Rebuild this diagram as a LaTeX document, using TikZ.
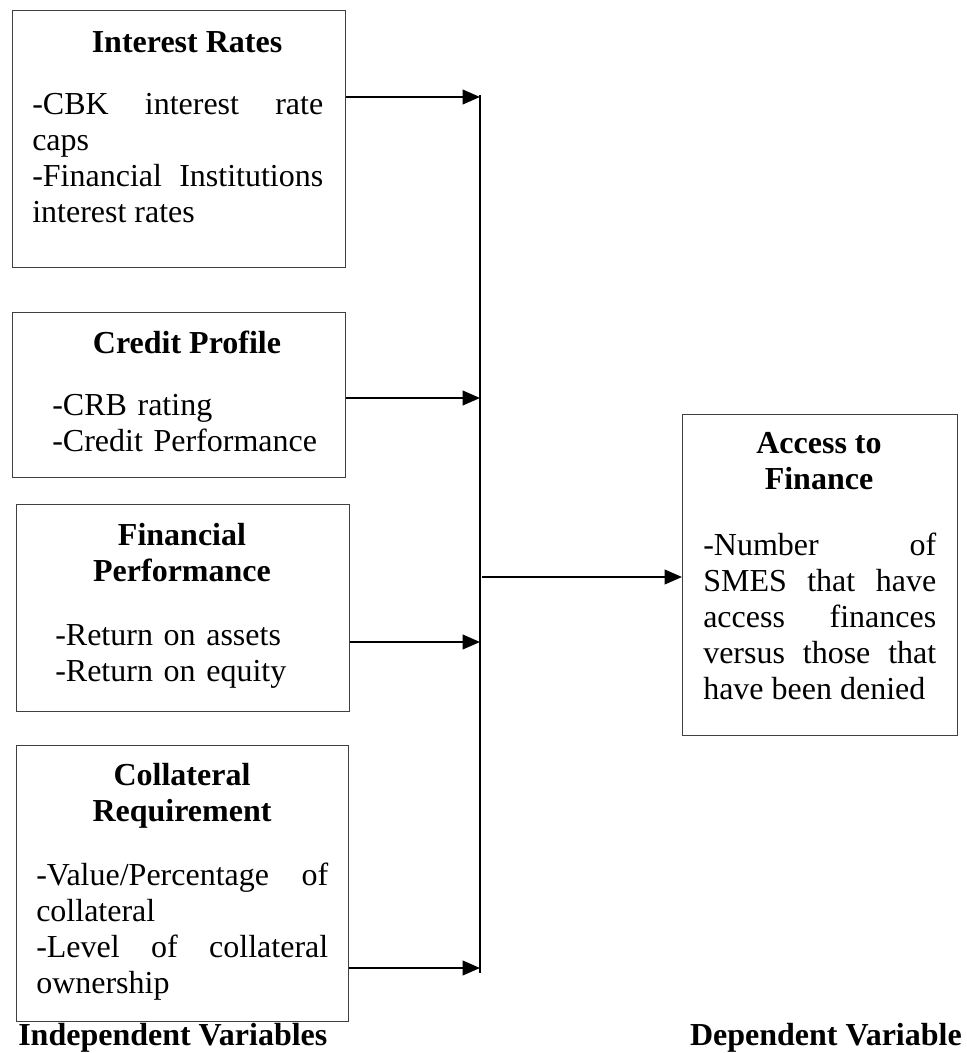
\documentclass[tikz,border=0pt]{standalone}
\usepackage{fontspec}
\setmainfont{Liberation Serif}
\usetikzlibrary{arrows.meta}
\tikzset{
    var box/.style={
        draw=black!75,
        line width=0.6pt,
        anchor=north west,
        inner sep=0pt
    },
    var head/.style={
        font=\fontsize{24}{27}\selectfont\bfseries,
        align=center,
        anchor=north,
        inner sep=0pt
    },
    var text/.style={
        font=\fontsize{24}{27}\selectfont,
        align=justify,
        anchor=north west,
        inner sep=0pt
    },
    link/.style={-{Triangle[length=13pt,width=11pt]}, line width=1.35pt}
}

\begin{document}
\begin{tikzpicture}[x=0.75pt,y=-0.75pt]
  \useasboundingbox (0,0) rectangle (967,1053);

  % independent variables
  \node[var box, minimum width=249.75pt, minimum height=192.75pt] (ir) at (12,10) {};
  \node[var head] (ir-head) at (187,26.8) {\strut Interest Rates};
  \node[var text, text width=218.25pt] (ir-text) at (32,88.8)
    {\strut-CBK interest rate\linebreak caps\\-Financial Institutions\linebreak interest rates};

  \node[var box, minimum width=249.75pt, minimum height=123.75pt] (cp) at (12,312) {};
  \node[var head] (cp-head) at (187,327.8) {\strut Credit Profile};
  \node[var text, text width=235pt, align=left] (cp-text) at (52,389.8)
    {\strut-CRB rating\\-Credit Performance};

  \node[var box, minimum width=249.75pt, minimum height=155.25pt] (fp) at (16,504) {};
  \node[var head] (fp-head) at (182,519.8) {\strut Financial\\Performance};
  \node[var text, text width=235pt, align=left] (fp-text) at (55,619.8)
    {\strut-Return on assets\\-Return on equity};

  \node[var box, minimum width=249pt, minimum height=207pt] (cr) at (16,745) {};
  \node[var head] (cr-head) at (182,759.8) {\strut Collateral\\Requirement};
  \node[var text, text width=219pt] (cr-text) at (36,859.8)
    {\strut-Value/Percentage of\linebreak collateral\\-Level of collateral\linebreak ownership};

  % dependent variable
  \node[var box, minimum width=206.25pt, minimum height=240.75pt] (af) at (682,414) {};
  \node[var head] (af-head) at (819,427.8) {\strut Access to\\Finance};
  \node[var text, text width=174.75pt] (af-text) at (703,529.8)
    {\strut-Number of\linebreak SMES that have\linebreak access finances\linebreak versus those that\linebreak have been denied};

  \node[var head, anchor=base west] (indep) at (18,1045) {Independent Variables};
  \node[var head, anchor=base east] (dep) at (962,1045) {Dependent Variable};

  % connectors
  \coordinate (bus top) at (480,95);
  \coordinate (bus end) at (480,973);
  \draw[line width=1.35pt] (bus top) -- (bus end);
  \foreach \b/\y in {ir/97,cp/398,fp/642,cr/968}{
    \coordinate (in-\b) at (480,\y);
    \draw[link] (\b.east |- in-\b) -- (in-\b);
  }
  \coordinate (bus out) at (482,577);
  \draw[link] (bus out) -- (af.west |- bus out);
\end{tikzpicture}
\end{document}
